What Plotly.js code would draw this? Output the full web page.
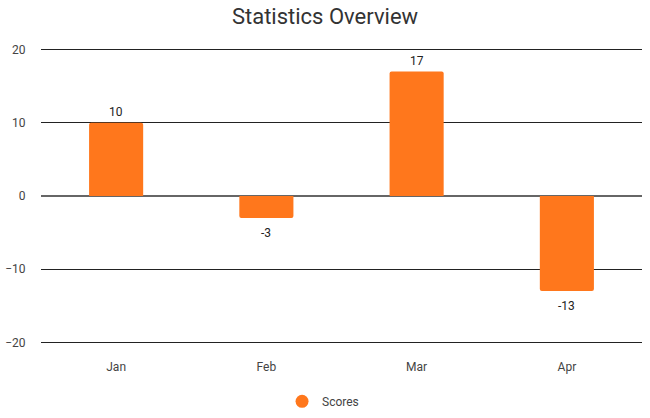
<!DOCTYPE html>
<html>
<head>
<meta charset="utf-8">
<script src="https://cdn.plot.ly/plotly-3.0.1.min.js"></script>
<style>html,body{margin:0;padding:0;background:#fff}#chart{width:650px;height:418px}</style>
</head>
<body>
<div id="chart"></div>
<script>
const categories = ["Jan", "Feb", "Mar", "Apr"];
const scores = [10, -3, 17, -13];
const seriesName = "Scores";
const yTicks = [-20, -10, 0, 10, 20];

const barColor = "#FF771C";

const traces = [
  {
    type: "bar",
    x: categories,
    y: scores,
    name: seriesName,
    showlegend: false,
    width: 0.36,
    marker: {color: barColor, cornerradius: 2},
    hoverinfo: "x+y"
  },
  {
    type: "scatter",
    mode: "markers",
    x: [null],
    y: [null],
    name: seriesName,
    marker: {color: barColor, size: 13, symbol: "circle"},
    showlegend: true
  }
];

const valueLabels = categories.map((c, i) => ({
  x: c,
  y: scores[i],
  xref: "x",
  yref: "y",
  text: String(scores[i]),
  showarrow: false,
  yanchor: "middle",
  yshift: scores[i] >= 0 ? 11 : -15,
  font: {family: "Roboto", size: 12, color: "#222"}
}));

const layout = {
  width: 650,
  height: 418,
  margin: {l: 41, r: 8, t: 46, b: 72},
  paper_bgcolor: "#fff",
  plot_bgcolor: "#fff",
  font: {family: "Roboto", size: 12, color: "#444"},
  title: {text: "Statistics Overview", xref: "container", x: 0.5, xanchor: "center", yref: "container", y: 0.96, yanchor: "middle",
          font: {family: "Roboto", size: 22, color: "#333"}},
  xaxis: {
    type: "category",
    showgrid: false,
    zeroline: false,
    showline: false,
    ticks: "outside",
    ticklen: 10,
    tickcolor: "rgba(0,0,0,0)",
    tickfont: {family: "Roboto", size: 12, color: "#444"}
  },
  yaxis: {
    range: [-20.5, 20.5],
    tickvals: yTicks,
    showgrid: true,
    gridcolor: "#222",
    gridwidth: 1,
    zeroline: true,
    zerolinecolor: "#666",
    zerolinewidth: 1.5,
    showline: false,
    ticks: "outside",
    ticklen: 12,
    tickcolor: "rgba(0,0,0,0)",
    tickfont: {family: "Roboto", size: 12, color: "#444"}
  },
  annotations: valueLabels,
  showlegend: true,
  legend: {orientation: "h", xref: "container", yref: "container", x: 0.497, xanchor: "center",
           y: 0.04, yanchor: "middle", itemwidth: 30,
           font: {family: "Roboto", size: 12, color: "#444"}},
  bargap: 0.64
};

Plotly.newPlot("chart", traces, layout, {displayModeBar: false, staticPlot: true});
</script>
</body>
</html>
